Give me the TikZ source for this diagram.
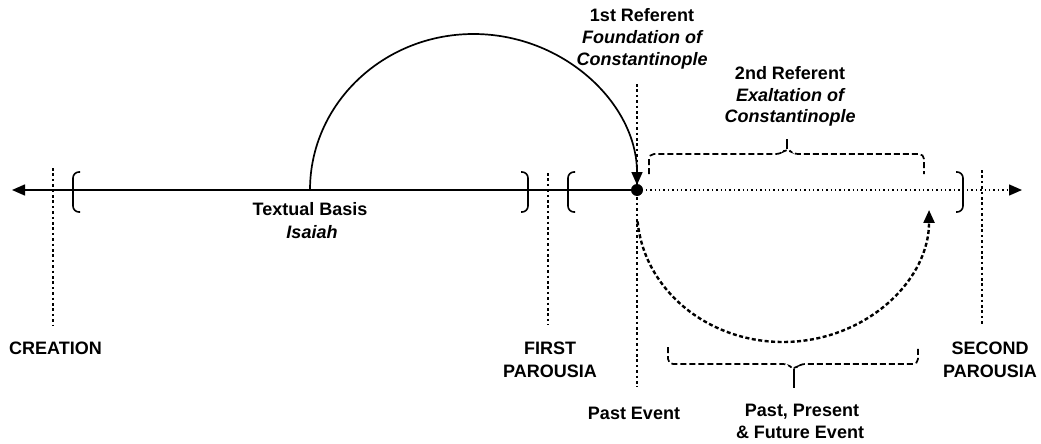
\documentclass[tikz,border=0pt]{standalone}
\usepackage{fontspec}
\setmainfont{Liberation Sans}
\usetikzlibrary{arrows.meta}
\begin{document}
\begin{tikzpicture}[x=1pt,y=-1pt,
  lbl/.style={font=\fontsize{18}{22}\selectfont\bfseries, inner sep=0pt, anchor=base},
  ilbl/.style={lbl, font=\fontsize{18}{22}\selectfont\bfseries\itshape},
  axis/.style={line width=1.5pt},
  tip/.style={-{Triangle[length=13pt,width=11pt]}},
  vdots/.style={line width=2.8pt, dash pattern=on 2.6pt off 2.8pt},
  hdots/.style={line width=1.4pt, dash pattern=on 1.4pt off 3pt},
  brk/.style={line width=1.6pt, rounded corners=6pt},
  dbrace/.style={line width=1.7pt, dash pattern=on 6pt off 3pt, rounded corners=5pt},
  stem/.style={line width=2.2pt},
]
\useasboundingbox (0,0) rectangle (1041,444);

% coordinates
\coordinate (Lend) at (12,190);
\coordinate (Rend) at (1022,190);
\coordinate (dot) at (637,190);
\coordinate (arcA) at (310,190);

% main axis
\draw[axis,tip] (dot) -- (Lend);
\draw[hdots,tip] (dot) -- (Rend);

% vertical dotted lines
\coordinate (c1) at (53,168);  \coordinate (c2) at (53,325);
\coordinate (f1) at (548,173); \coordinate (f2) at (548,325);
\coordinate (p1) at (637,84);  \coordinate (p2) at (637,387);
\coordinate (s1) at (982,170); \coordinate (s2) at (982,325);
\draw[vdots] (c1) -- (c2);
\draw[vdots] (f1) -- (f2);
\draw[vdots] (p1) -- (p2);
\draw[vdots] (s1) -- (s2);

% brackets
\draw[brk] (80,172) -- (73,172) -- (73,212) -- (80,212);
\draw[brk] (521,172) -- (528,172) -- (528,212) -- (521,212);
\draw[brk] (575,172) -- (568,172) -- (568,212) -- (575,212);
\draw[brk] (956,172) -- (963,172) -- (963,212) -- (956,212);

% upper arc
\draw[line width=1.7pt, tip, shorten >=5pt] (arcA) arc[start angle=180, end angle=360, x radius=163.5, y radius=156];

% dot
\fill (dot) circle (6pt);

% lower dashed arc
\coordinate (lowA) at (637.6,221.5);
\draw[line width=2.4pt, dash pattern=on 4pt off 2.5pt, tip] (lowA) arc[start angle=175, end angle=0, x radius=146, y radius=132];

% top dashed brace
\draw[dbrace] (649,174) -- (649,154) -- (781,154) -- (787,148) -- (793,154) -- (924,154) -- (924,174);
\coordinate (tb1) at (787,149); \coordinate (tb2) at (787,139);
\draw[stem] (tb1) -- (tb2);

% bottom dashed brace
\draw[dbrace] (668,347) -- (668,364) -- (788,364) -- (794,370) -- (800,364) -- (918,364) -- (918,347);
\coordinate (bb1) at (794,369); \coordinate (bb2) at (794,388);
\draw[stem] (bb1) -- (bb2);

% labels
\node[lbl]  (r1a) at (642,22) {1st Referent};
\node[ilbl] (r1b) at (642,44) {Foundation of};
\node[ilbl] (r1c) at (642,66) {Constantinople};
\node[lbl]  (r2a) at (790,79) {2nd Referent};
\node[ilbl] (r2b) at (790,101) {Exaltation of};
\node[ilbl] (r2c) at (790,122) {Constantinople};
\node[lbl]  (tb)  at (310,215) {Textual Basis};
\node[ilbl] (isa) at (312,238) {Isaiah};
\node[lbl, anchor=base west] (cre) at (9,354) {CREATION};
\node[lbl]  (fp1) at (550,354) {FIRST};
\node[lbl]  (fp2) at (550,377) {PAROUSIA};
\node[lbl]  (sp1) at (990,354) {SECOND};
\node[lbl]  (sp2) at (990,377) {PAROUSIA};
\node[lbl]  (pe)  at (634,419) {Past Event};
\node[lbl]  (ppf1) at (802,416) {Past, Present};
\node[lbl]  (ppf2) at (800,438) {\& Future Event};
\end{tikzpicture}
\end{document}
